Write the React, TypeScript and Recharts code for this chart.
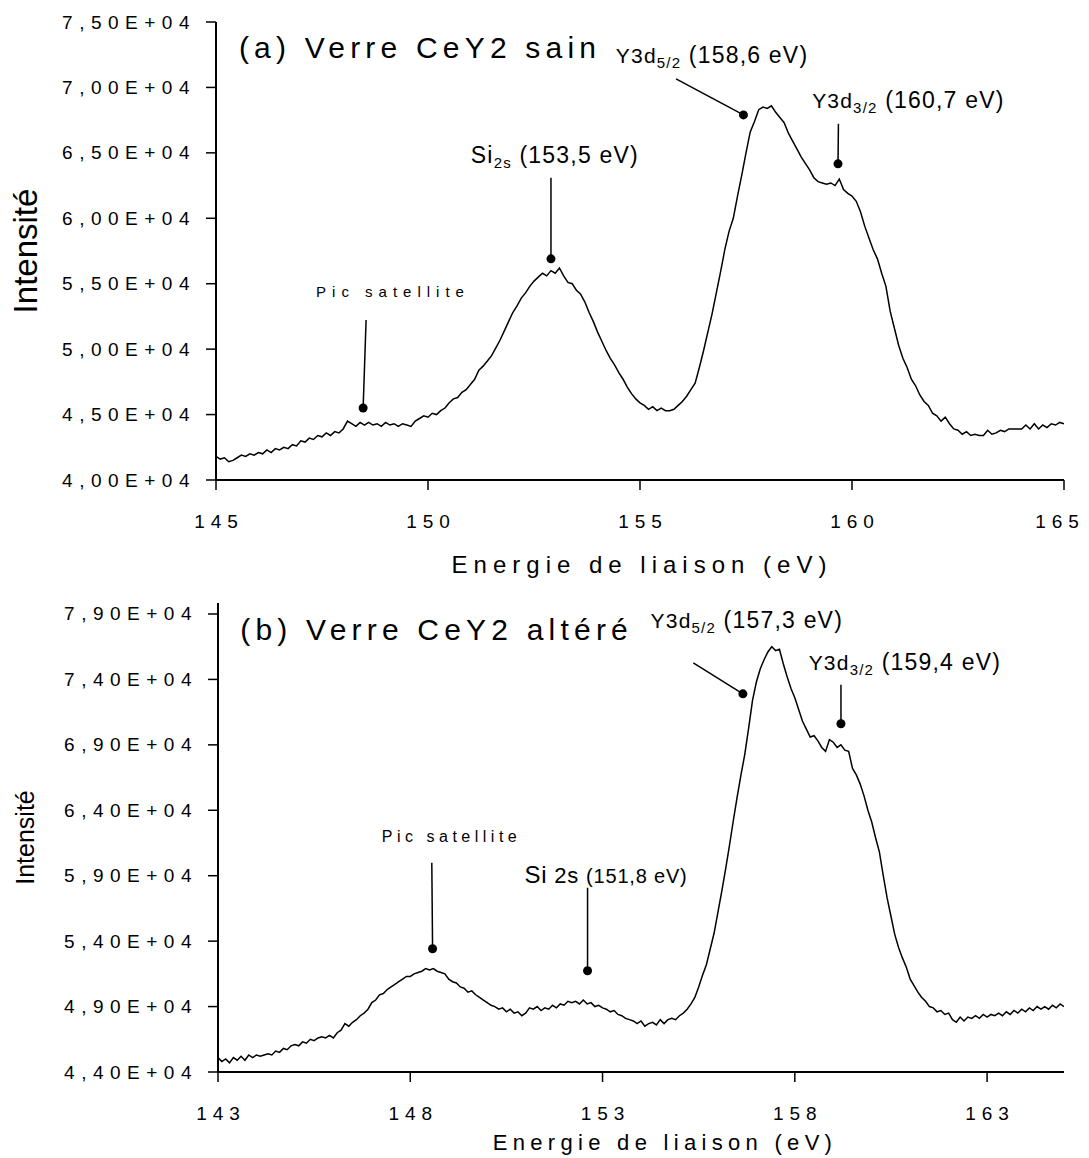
import React from 'react';
import { LineChart, Line, XAxis, YAxis, ReferenceLine, ReferenceDot } from 'recharts';

const FONT = '"Liberation Sans", Arial, Helvetica, sans-serif';

// (a) Verre CeY2 sain : 145 -> 165 eV, pas de 0,1 eV
const startA = 145;
const stepA = 0.1;
const intensityA = [
  41800, 41600, 41700, 41400, 41500, 41700, 41900, 41800, 42000, 41900,
  42100, 42000, 42300, 42100, 42400, 42300, 42500, 42400, 42700, 42600,
  43000, 42900, 43200, 43100, 43400, 43300, 43600, 43400, 43700, 43600,
  43900, 44500, 44300, 44100, 44400, 44200, 44400, 44200, 44300, 44100,
  44400, 44200, 44300, 44100, 44300, 44200, 44100, 44500, 44700, 44900,
  44800, 45100, 45000, 45300, 45500, 45900, 46200, 46300, 46700, 46900,
  47300, 47700, 48400, 48700, 49100, 49500, 50100, 50700, 51400, 52100,
  52800, 53300, 53900, 54300, 54800, 55200, 55500, 55800, 55600, 56000,
  55800, 56200, 55600, 55100, 55000, 54500, 54200, 53600, 52800, 52100,
  51300, 50600, 49900, 49300, 48800, 48200, 47700, 47100, 46600, 46200,
  45900, 45700, 45400, 45600, 45300, 45500, 45300, 45300, 45400, 45700,
  46000, 46400, 46900, 47400, 48600, 49900, 51300, 52700, 54300, 55900,
  57600, 59000, 60000, 61700, 63300, 65000, 66600, 67400, 68300, 68500,
  68400, 68600, 68100, 67700, 67300, 66500, 65900, 65300, 64700, 64200,
  63700, 63100, 62800, 62700, 62600, 62700, 62500, 63000, 62200, 61900,
  61700, 61300, 60500, 59400, 58500, 57600, 56900, 55800, 54800, 52900,
  51600, 50300, 49300, 48600, 47700, 47200, 46500, 46000, 45700, 45100,
  44900, 44500, 44800, 44300, 43900, 43800, 43500, 43700, 43400, 43500,
  43400, 43400, 43800, 43500, 43600, 43800, 43700, 43900, 43900, 43900,
  43900, 44200, 43900, 44300, 43900, 44200, 44000, 44300, 44200, 44400,
  44300,
];

// (b) Verre CeY2 altéré : 143 -> 165 eV, pas de 0,1 eV
const startB = 143;
const stepB = 0.1;
const intensityB = [
  45100, 44800, 45000, 44700, 45100, 44900, 45200, 44900, 45300, 45100,
  45300, 45200, 45300, 45400, 45300, 45600, 45500, 45800, 45700, 46000,
  46100, 46000, 46300, 46200, 46500, 46400, 46600, 46700, 46600, 46800,
  46600, 47000, 47200, 47700, 47500, 47800, 48000, 48300, 48500, 48800,
  49300, 49500, 49900, 50000, 50300, 50500, 50700, 50900, 51100, 51300,
  51300, 51500, 51600, 51700, 51900, 51800, 51900, 51700, 51600, 51500,
  51100, 50900, 50800, 50500, 50400, 50100, 50200, 49900, 49700, 49500,
  49300, 49100, 49000, 48800, 48900, 48600, 48800, 48500, 48600, 48300,
  48500, 48900, 48800, 49000, 48700, 48900, 48800, 49100, 48900, 49200,
  49100, 49400, 49300, 49400, 49200, 49500, 49200, 49300, 49000, 49100,
  48900, 48800, 48600, 48700, 48400, 48300, 48100, 48000, 47900, 47700,
  47900, 47500, 47700, 47800, 47600, 48000, 47700, 48000, 48100, 48000,
  48300, 48500, 48800, 49200, 49700, 50500, 51400, 52200, 53400, 54600,
  56200, 57800, 59500, 61300, 63200, 65000, 66700, 68300, 70300, 72400,
  73800, 74800, 75500, 76100, 76500, 76200, 76300, 75200, 74200, 73300,
  72600, 71700, 70800, 70200, 69600, 69700, 69300, 68800, 68500, 69400,
  69200, 68800, 69000, 68600, 68500, 67200, 66700, 66000, 65100, 64000,
  63100, 61900, 60800, 59000, 57300, 55900, 54500, 53500, 52700, 52000,
  51100, 50600, 50100, 49700, 49400, 49000, 48900, 48600, 48700, 48400,
  48500, 48000, 47800, 48200, 47900, 48200, 48100, 48300, 48100, 48400,
  48200, 48400, 48300, 48500, 48300, 48600, 48400, 48700, 48500, 48800,
  48600, 48900, 48700, 49000, 48800, 49000, 48800, 49100, 48900, 49200,
  49000,
];

const ticksXA = [145, 150, 155, 160, 165];
const ticksYA = [40000, 45000, 50000, 55000, 60000, 65000, 70000, 75000];
const ticksXB = [143, 148, 153, 158, 163];
const ticksYB = [44000, 49000, 54000, 59000, 64000, 69000, 74000, 79000];

// flèches : [x début, y début, x point, y point]
const pointersA = [
  [148.54, 52230, 148.47, 45500],
  [152.9, 63090, 152.9, 56900],
  [155.85, 70660, 157.44, 67900],
  [159.68, 67220, 159.67, 64160],
];
const pointersB = [
  [148.56, 59990, 148.58, 53420],
  [152.61, 58080, 152.61, 51740],
  [155.36, 75270, 156.65, 72900],
  [159.2, 73590, 159.2, 70610],
];

const dataA = intensityA.map((v, i) => ({ e: +(startA + i * stepA).toFixed(1), v }));
const dataB = intensityB.map((v, i) => ({ e: +(startB + i * stepB).toFixed(1), v }));

const fmtY = (v: number) => `${(v / 10000).toFixed(2).replace('.', ',')}E+04`;

const YTick = ({ x, y, payload }: any) => (
  <text x={x - 8} y={y} textAnchor="end" dominantBaseline="central" fontFamily={FONT}
    fontSize={19} fill="#000" style={{ letterSpacing: 6.5 }}>
    {fmtY(payload.value)}
  </text>
);

// le dernier libellé est collé au bord droit : on le décale un peu
const XTick = ({ x, y, payload }: any) => (
  <text x={x > 1050 ? x - 4 : x + 3} y={y + 36} textAnchor="middle" fontFamily={FONT}
    fontSize={19} fill="#000" style={{ letterSpacing: 6 }}>
    {payload.value}
  </text>
);

const XTitle = ({ viewBox, dx, dy, size, spacing }: any) => (
  <text x={viewBox.x + viewBox.width / 2 + dx} y={viewBox.y + dy} textAnchor="middle"
    fontFamily={FONT} fontSize={size} fill="#000" style={{ letterSpacing: spacing }}>
    Energie de liaison (eV)
  </text>
);

const YTitle = ({ viewBox, size }: any) => {
  const cy = viewBox.y + viewBox.height / 2;
  return (
    <text transform={`translate(25,${cy}) rotate(-90)`} textAnchor="middle"
      dominantBaseline="central" fontFamily={FONT} fontSize={size} fill="#000">
      Intensité
    </text>
  );
};

const at = (render: (x: number, y: number) => React.ReactNode) => (p: any) => <g>{render(p.cx, p.cy)}</g>;

const labelsA = [
  { x: 145.54, y: 72262, render: at((x, y) => (
    <text x={x} y={y} fontFamily={FONT} fontSize={30} style={{ letterSpacing: 5.2 }}>(a) Verre CeY2 sain</text>
  )) },
  { x: 151.01, y: 64235, render: at((x, y) => (
    <text x={x} y={y} fontFamily={FONT} fontSize={23} style={{ letterSpacing: 1.2 }}>
      Si<tspan fontSize={15} dy={5}>2s</tspan><tspan dy={-5}> (153,5 eV)</tspan>
    </text>
  )) },
  { x: 154.43, y: 71880, render: at((x, y) => (
    <text x={x} y={y} fontFamily={FONT} fontSize={23} style={{ letterSpacing: 1.2 }}>
      <tspan fontSize={21}>Y3d</tspan><tspan fontSize={15} dy={5}>5/2</tspan><tspan dy={-5}> (158,6 eV)</tspan>
    </text>
  )) },
  { x: 159.06, y: 68440, render: at((x, y) => (
    <text x={x} y={y} fontFamily={FONT} fontSize={23} style={{ letterSpacing: 1.2 }}>
      <tspan fontSize={21}>Y3d</tspan><tspan fontSize={15} dy={5}>3/2</tspan><tspan dy={-5}> (160,7 eV)</tspan>
    </text>
  )) },
  { x: 147.36, y: 53990, render: at((x, y) => (
    <text x={x} y={y} fontFamily={FONT} fontSize={15} style={{ letterSpacing: 6 }}>Pic satellite</text>
  )) },
];

const labelsB = [
  { x: 143.58, y: 77030, render: at((x, y) => (
    <text x={x} y={y} fontFamily={FONT} fontSize={30} style={{ letterSpacing: 5.2 }}>(b) Verre CeY2 altéré</text>
  )) },
  { x: 154.25, y: 77945, render: at((x, y) => (
    <text x={x} y={y} fontFamily={FONT} fontSize={23} style={{ letterSpacing: 1.2 }}>
      <tspan fontSize={21}>Y3d</tspan><tspan fontSize={15} dy={5}>5/2</tspan><tspan dy={-5}> (157,3 eV)</tspan>
    </text>
  )) },
  { x: 158.36, y: 74735, render: at((x, y) => (
    <text x={x} y={y} fontFamily={FONT} fontSize={23} style={{ letterSpacing: 1.2 }}>
      <tspan fontSize={21}>Y3d</tspan><tspan fontSize={15} dy={5}>3/2</tspan><tspan dy={-5}> (159,4 eV)</tspan>
    </text>
  )) },
  { x: 147.26, y: 61594, render: at((x, y) => (
    <text x={x} y={y} fontFamily={FONT} fontSize={16} style={{ letterSpacing: 4.5 }}>Pic satellite</text>
  )) },
  { x: 150.97, y: 58460, render: at((x, y) => (
    <text x={x} y={y} fontFamily={FONT} fontSize={24} style={{ letterSpacing: 0.8 }}>
      Si<tspan fontSize={22}> 2s </tspan><tspan fontSize={20}>(151,8 eV)</tspan>
    </text>
  )) },
];

interface PanelProps {
  data: { e: number; v: number }[];
  height: number;
  top: number;
  yWidth: number;
  xHeight: number;
  xDomain: [number, number];
  yDomain: [number, number];
  xTicks: number[];
  yTicks: number[];
  pointers: number[][];
  labels: { x: number; y: number; render: any }[];
  yTitleSize: number;
  xTitle: { dx: number; dy: number; size: number; spacing: number };
}

const Panel = (p: PanelProps) => (
  <LineChart width={1089} height={p.height} data={p.data}
    margin={{ top: p.top, right: 25, bottom: 0, left: 0 }}>
    <XAxis dataKey="e" type="number" domain={p.xDomain} ticks={p.xTicks} allowDataOverflow
      height={p.xHeight} tickSize={10} tick={<XTick />}
      axisLine={{ stroke: '#000', strokeWidth: 2 }} tickLine={{ stroke: '#000', strokeWidth: 1.5 }}
      label={<XTitle {...p.xTitle} />} />
    <XAxis xAxisId="top" orientation="top" dataKey="e" type="number" domain={p.xDomain}
      height={0} tick={false} tickLine={false} axisLine={{ stroke: '#000', strokeWidth: 1.5 }} />
    <YAxis type="number" domain={p.yDomain} ticks={p.yTicks} allowDataOverflow
      width={p.yWidth} tickSize={10} tick={<YTick />}
      axisLine={{ stroke: '#000', strokeWidth: 2 }} tickLine={{ stroke: '#000', strokeWidth: 1.5 }}
      label={<YTitle size={p.yTitleSize} />} />
    <YAxis yAxisId="right" orientation="right" type="number" domain={p.yDomain}
      width={0} tick={false} tickLine={false} axisLine={{ stroke: '#000', strokeWidth: 1.5 }} />
    <Line type="linear" dataKey="v" stroke="#000" strokeWidth={1.5} dot={false} isAnimationActive={false} />
    {p.pointers.map((s, i) => (
      <ReferenceLine key={`l${i}`} segment={[{ x: s[0], y: s[1] }, { x: s[2], y: s[3] }]}
        stroke="#000" strokeWidth={1.5} />
    ))}
    {p.pointers.map((s, i) => (
      <ReferenceDot key={`d${i}`} x={s[2]} y={s[3]} r={4.5} fill="#000" stroke="none" />
    ))}
    {p.labels.map((l, i) => (
      <ReferenceDot key={`t${i}`} x={l.x} y={l.y} r={0} shape={l.render} />
    ))}
  </LineChart>
);

export default function App() {
  return (
    <div style={{ position: 'absolute', left: 0, top: 0, width: 1089, height: 1158, background: '#fff' }}>
      <Panel data={dataA} height={590} top={22} yWidth={216} xHeight={110}
        xDomain={[145, 165]} yDomain={[40000, 75000]} xTicks={ticksXA} yTicks={ticksYA}
        pointers={pointersA} labels={labelsA} yTitleSize={33}
        xTitle={{ dx: 2, dy: 93, size: 24, spacing: 6 }} />
      <Panel data={dataB} height={568} top={13} yWidth={218} xHeight={86}
        xDomain={[143, 165]} yDomain={[44000, 79840]} xTicks={ticksXB} yTicks={ticksYB}
        pointers={pointersB} labels={labelsB} yTitleSize={25}
        xTitle={{ dx: 24, dy: 78, size: 22, spacing: 5.3 }} />
    </div>
  );
}
